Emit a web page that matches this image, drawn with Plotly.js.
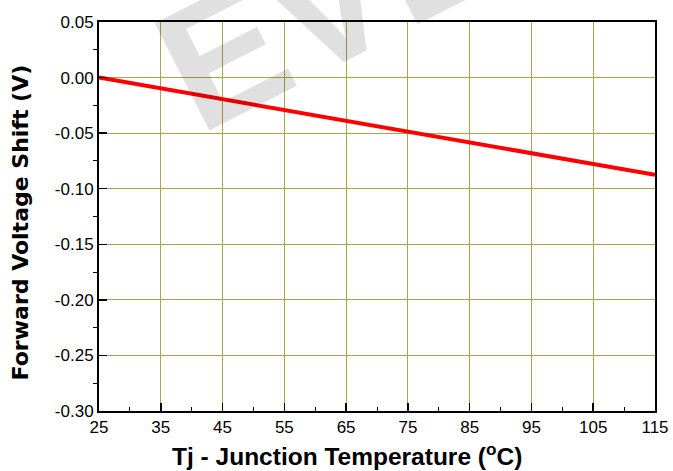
<!DOCTYPE html>
<html>
<head>
<meta charset="utf-8">
<script src="https://cdn.plot.ly/plotly-3.0.1.min.js"></script>
<style>html,body{margin:0;padding:0;background:#fff;}#chart{width:673px;height:471px;}</style>
</head>
<body>
<div id="chart"></div>
<script>
// Junction temperature (°C)
const temperature = [25, 35, 45, 55, 65, 75, 85, 95, 105, 115];
// Forward voltage shift (V)
const voltageShift = [0, -0.0097, -0.0195, -0.029, -0.039, -0.0487, -0.0585, -0.068, -0.078, -0.0875];
const xTicks = [25, 35, 45, 55, 65, 75, 85, 95, 105, 115];
const yTicks = [0.05, 0.00, -0.05, -0.10, -0.15, -0.20, -0.25, -0.30];
const yTickText = ['0.05', '0.00', '-0.05', '-0.10', '-0.15', '-0.20', '-0.25', '-0.30'];
const xTitle = 'Tj - Junction Temperature (<sup>o</sup>C)';
const yTitle = 'Forward Voltage Shift (V)';
const watermark = 'EVERLIGHT';

const gridColor = '#aaa548';
const trace = {
  x: temperature, y: voltageShift, type: 'scatter', mode: 'lines',
  line: {color: '#ff0000', width: 4}, hoverinfo: 'skip'
};

const layout = {
  width: 673, height: 471,
  margin: {l: 99, r: 18, t: 22, b: 60},
  paper_bgcolor: '#ffffff', plot_bgcolor: 'rgba(0,0,0,0)',
  showlegend: false,
  font: {family: 'Liberation Sans, Arial, sans-serif', color: '#000', size: 17},
  xaxis: {
    range: [25, 115], tickvals: xTicks, ticktext: xTicks.map(String),
    showgrid: true, gridcolor: gridColor, gridwidth: 1,
    zeroline: false, showline: true, linecolor: '#000', linewidth: 2, mirror: true,
    ticks: 'inside', ticklen: 8, tickwidth: 1.5, tickcolor: '#000',
    minor: {dtick: 5, tick0: 30, ticks: 'inside', ticklen: 4, tickwidth: 1, tickcolor: '#000', showgrid: false},
    tickfont: {size: 17, family: 'Liberation Sans, Arial, sans-serif'}
  },
  yaxis: {
    range: [-0.30, 0.05], tickvals: yTicks, ticktext: yTickText,
    showgrid: true, gridcolor: gridColor, gridwidth: 1,
    zeroline: false, showline: true, linecolor: '#000', linewidth: 2, mirror: true,
    ticks: 'inside', ticklen: 8, tickwidth: 1.5, tickcolor: '#000',
    minor: {dtick: 0.05, tick0: 0.025, ticks: 'outside', ticklen: 4, tickwidth: 1, tickcolor: '#000', showgrid: false},
    tickfont: {size: 17, family: 'Liberation Sans, Arial, sans-serif'}
  },
  annotations: [
    {
      text: watermark, xref: 'paper', yref: 'paper', x: 0.933, y: 1.43,
      xanchor: 'center', yanchor: 'middle', showarrow: false, textangle: -27,
      font: {size: 175, family: 'Liberation Sans, Arial, sans-serif', weight: 'bold', color: 'rgba(0,0,0,0.12)'}
    },
    {
      text: xTitle, xref: 'paper', yref: 'paper', x: 0.446, y: -0.113,
      xanchor: 'center', yanchor: 'middle', showarrow: false,
      font: {size: 24.5, family: 'Liberation Sans, Arial, sans-serif', weight: 'bold', color: '#000'}
    },
    {
      text: yTitle, xref: 'paper', yref: 'paper', x: -0.142, y: 0.485,
      xanchor: 'center', yanchor: 'middle', showarrow: false, textangle: -90,
      font: {size: 22, family: 'DejaVu Sans, sans-serif', weight: 'bold', color: '#000'}
    }
  ]
};

Plotly.newPlot('chart', [trace], layout, {displayModeBar: false, staticPlot: true});
</script>
</body>
</html>
